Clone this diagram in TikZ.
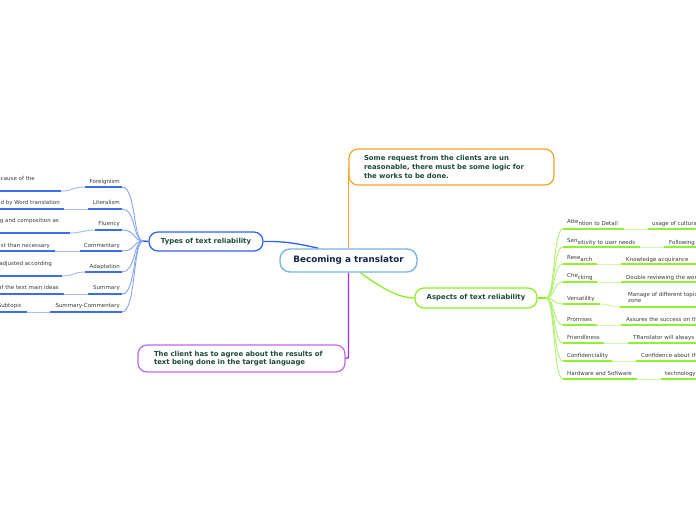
\documentclass[tikz,border=0pt]{standalone}
\usepackage{fontspec}
\setmainfont{DejaVu Sans}
\usetikzlibrary{backgrounds}
\definecolor{cenborder}{HTML}{78B4E4}
\definecolor{centxt}{HTML}{15254A}
\definecolor{boldtxt}{HTML}{1D4A3A}
\definecolor{subgray}{HTML}{3A3A3A}
\definecolor{orangec}{HTML}{F7A526}
\definecolor{purpleb}{HTML}{C066F0}
\definecolor{purplel}{HTML}{9B30E8}
\definecolor{blueb}{HTML}{2E62E8}
\definecolor{bluedark}{HTML}{3B6FEA}
\definecolor{bluelight}{HTML}{A6BFF5}
\definecolor{bluecurve}{HTML}{86A6F4}
\definecolor{greenb}{HTML}{8AEF22}
\definecolor{greendark}{HTML}{92F032}
\definecolor{greenlight}{HTML}{D2F8A8}
\definecolor{greencurve}{HTML}{B0F070}
\tikzset{
  subtxt/.style={font=\fontsize{5.5}{6.6}\selectfont, text=subgray, inner sep=0pt},
  topicbox/.style={draw, rounded corners=9pt, line width=1.2pt, fill=white,
    font=\bfseries\fontsize{6.9}{8.6}\selectfont, text=boldtxt, inner ysep=0pt},
  bdk/.style={draw=bluedark, line width=1.5pt},
  blt/.style={draw=bluelight, line width=1pt},
  bcv/.style={draw=bluecurve, line width=0.9pt},
  gdk/.style={draw=greendark, line width=1.5pt},
  glt/.style={draw=greenlight, line width=1pt},
  gcv/.style={draw=greencurve, line width=0.9pt}
}
\begin{document}
\begin{tikzpicture}[x=1pt,y=-1pt]
\path[use as bounding box] (0,0) rectangle (696,520);

% main nodes
\node[draw=cenborder, line width=1.4pt, rounded corners=10pt, fill=white,
  minimum width=137pt, minimum height=23pt, inner sep=0pt,
  font=\bfseries\fontsize{8.8}{10}\selectfont, text=centxt] (cen) at (348.5,260.5) {Becoming a translator};

\node[topicbox, draw=orangec, minimum height=36pt, text width=175pt, inner xsep=15pt, align=left]
  (orn) at (451.5,167) {Some request from the clients are un\\reasonable, there must be some logic for\\the works to be done.};

\node[topicbox, draw=purpleb, minimum height=27pt, text width=175pt, inner xsep=16pt, align=left]
  (pur) at (241.5,358.5) {The client has to agree about the results of\\text being done in the target language};

\node[topicbox, draw=blueb, minimum width=114pt, minimum height=19pt, inner xsep=0pt]
  (typ) at (206,241.5) {Types of text reliability};

\node[topicbox, draw=greenb, minimum width=122pt, minimum height=20pt, inner xsep=0pt]
  (asp) at (476,298) {Aspects of text reliability};

\coordinate (hubL) at (143,241);
\coordinate (hubR) at (546,298);

\begin{pgfonlayer}{background}
\draw[draw=blueb, line width=1.3pt] ([xshift=-30pt]cen.north) .. controls (300,244) and (285,241) .. (typ.east);
\draw[draw=greenb, line width=1.3pt] ([xshift=12pt]cen.south) .. controls (380,287) and (398,298) .. (asp.west);
\draw[draw=orangec, line width=1.3pt] (cen.north) -- (cen.north |- orn.west);
\draw[draw=purplel, line width=1.3pt] (cen.south) -- (348.5,352) .. controls (348.5,358.5) .. (pur.east);
\draw[draw=blueb, line width=1.4pt] (typ.west) -- (hubL);
\draw[draw=greenb, line width=1.4pt] (asp.east) -- (hubR);
\end{pgfonlayer}

% left branches
\foreach \i/\txt/\yt/\yl/\xs/\gtxt/\gx/\gyt/\gyl/\gxe in {
  1/Foreignism/183/187/85/ecause of the/35/180/191/61,
  2/Literalism/204/209/88/d by Word translation/60/204/209/64,
  3/Fluency/225/230/95/g and composition as/59/222/233/70,
  4/Commentary/247/251/80/st than necessary/50/247/251/55,
  5/Adaptation/268/272/85/adjusted according/52/265/276/62,
  6/Summary/289/294/88/of the text main ideas/59/289/294/64,
  7/Summary-Commentary/307/312/50/Subtopic/22/307/312/27}
{
  \node[subtxt, anchor=base east] (Lt\i) at (120,\yt) {\txt};
  \node[subtxt, anchor=base east] (Lgt\i) at (\gx,\gyt) {\gtxt};
  \coordinate (Lc\i) at (122,\yl);
  \coordinate (Ls\i) at (\xs,\yl);
  \coordinate (Lg\i) at (\gxe,\gyl);
  \coordinate (Lz\i) at (-2,\gyl);
  \draw[bcv] (hubL) .. controls (133,241) and (136,\yl) .. (Lc\i);
  \draw[bdk] (Ls\i) -- (Lc\i);
  \draw[blt] (Lg\i) .. controls +(12,0) and +(-12,0) .. (Ls\i);
  \draw[bdk] (Lz\i) -- (Lg\i);
}

% right branches
\foreach \i/\txt/\yt/\yl/\xe/\gtxt/\gx/\gyt/\gyl/\gxs in {
  1/{\raisebox{1.2pt}{Atte}ntion to Detail}/225/229/624/usage of cultura/652/225/229/648,
  2/{\raisebox{1.2pt}{Sen}sitivity to user needs}/244/247/640/Following/669/244/247/664,
  3/{\raisebox{1.2pt}{Rese}arch}/261/264/597/Knowledge acquirance/626/261/264/621,
  4/{\raisebox{1.2pt}{Che}cking}/279/282/597/Double reviewing the wor/626/279/282/621,
  6/Promises/321/325/597/Assures the success on th/626/321/325/621,
  7/Friendliness/339/343/604/TRanslator will always/633/339/343/628,
  8/Confidenciality/357/361/612/Confidence about th/641/357/361/636,
  9/Hardware and Software/375/379/637/technology/665/375/379/661}
{
  \node[subtxt, anchor=base west] (Rt\i) at (567,\yt) {\txt};
  \node[subtxt, anchor=base west] (Rgt\i) at (\gx,\gyt) {\gtxt};
  \coordinate (Rc\i) at (563,\yl);
  \coordinate (Re\i) at (\xe,\yl);
  \coordinate (Rg\i) at (\gxs,\gyl);
  \coordinate (Rz\i) at (698,\gyl);
  \draw[gcv] (hubR) .. controls (555,298) and (553,\yl) .. (Rc\i);
  \draw[gdk] (Rc\i) -- (Re\i);
  \draw[glt] (Re\i) .. controls +(12,0) and +(-12,0) .. (Rg\i);
  \draw[gdk] (Rg\i) -- (Rz\i);
}
% Versatility (two-line subtopic)
\node[subtxt, anchor=base west] (Rt5) at (567,300) {Versatility};
\node[subtxt, anchor=north west, align=left] (Rgt5) at (628,292) {Manage of different topic\\zone};
\coordinate (Rc5) at (563,304);
\coordinate (Re5) at (600,304);
\coordinate (Rg5) at (620,307);
\coordinate (Rz5) at (698,307);
\draw[gcv] (hubR) .. controls (555,298) and (553,304) .. (Rc5);
\draw[gdk] (Rc5) -- (Re5);
\draw[glt] (Re5) .. controls +(10,0) and +(-10,0) .. (Rg5);
\draw[gdk] (Rg5) -- (Rz5);
\end{tikzpicture}
\end{document}
